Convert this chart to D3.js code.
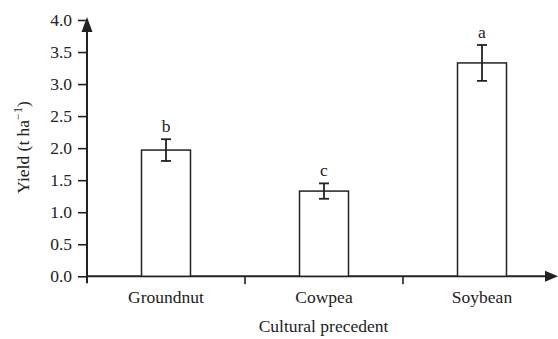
<!DOCTYPE html>
<html><head><meta charset="utf-8">
<script src="https://cdn.jsdelivr.net/npm/d3@7"></script>
<style>body{margin:0;background:#fff}text{font-family:"Liberation Serif","Times New Roman",serif;fill:#222}</style>
</head><body><svg id="c" width="558" height="339"></svg>
<script>
const categories = ["Groundnut", "Cowpea", "Soybean"];
const yields = [1.97, 1.33, 3.33];
const errors = [0.17, 0.12, 0.28];
const letters = ["b", "c", "a"];
const yTicks = [0, 0.5, 1.0, 1.5, 2.0, 2.5, 3.0, 3.5, 4.0];

const svg = d3.select("#c");
const ink = "#222";
const fs = 17.5;
const x0 = 87, x1 = 561, yb = 276.3, yt = 20;
const x = d3.scaleBand().domain(categories).range([x0, x1]).paddingInner(0.69).paddingOuter(0.345);
const xb = d3.scaleBand().domain(categories).range([x0, x1]).padding(0);
const y = d3.scaleLinear().domain([0, 4]).range([yb, yt]);

// y axis
const ya = svg.append("g").attr("transform", `translate(${x0},0)`)
  .call(d3.axisLeft(y).tickValues(yTicks).tickFormat(d3.format(".1f")).tickSize(9).tickPadding(6));
ya.select(".domain").remove();
ya.selectAll("line").attr("stroke", ink).attr("stroke-width", 1.6);
ya.selectAll("text").attr("font-size", fs).attr("font-family", "Liberation Serif").attr("fill", ink);
svg.append("line").attr("x1", x0).attr("x2", x0).attr("y1", 28).attr("y2", yb + 7)
  .attr("stroke", ink).attr("stroke-width", 2);
svg.append("path").attr("d", `M${x0},${yt - 3} L${x0 - 5.5},${yt + 12} L${x0 + 5.5},${yt + 12} Z`).attr("fill", ink);

// x axis
svg.append("line").attr("x1", x0).attr("x2", 548).attr("y1", yb).attr("y2", yb)
  .attr("stroke", ink).attr("stroke-width", 2);
svg.append("path").attr("d", `M558,${yb} L545,${yb - 5.5} L545,${yb + 5.5} Z`).attr("fill", ink);
svg.selectAll(".xt").data(categories.slice(0, 2)).enter().append("line")
  .attr("x1", d => xb(d) + xb.bandwidth()).attr("x2", d => xb(d) + xb.bandwidth())
  .attr("y1", yb).attr("y2", yb + 8).attr("stroke", ink).attr("stroke-width", 1.6);
svg.selectAll(".xl").data(categories).enter().append("text")
  .attr("x", d => x(d) + x.bandwidth() / 2).attr("y", 303).attr("text-anchor", "middle")
  .attr("font-size", fs).text(d => d);

// bars
svg.selectAll(".bar").data(categories).enter().append("rect")
  .attr("x", d => x(d)).attr("width", x.bandwidth())
  .attr("y", (d, i) => y(yields[i])).attr("height", (d, i) => yb - y(yields[i]))
  .attr("fill", "#fff").attr("stroke", ink).attr("stroke-width", 1.5);

// error bars
categories.forEach((c, i) => {
  const cx = x(c) + x.bandwidth() / 2;
  const hi = y(yields[i] + errors[i]), lo = y(yields[i] - errors[i]);
  const g = svg.append("g").attr("stroke", ink).attr("stroke-width", 1.8);
  g.append("line").attr("x1", cx).attr("x2", cx).attr("y1", hi).attr("y2", lo);
  g.append("line").attr("x1", cx - 5).attr("x2", cx + 5).attr("y1", hi).attr("y2", hi);
  g.append("line").attr("x1", cx - 5).attr("x2", cx + 5).attr("y1", lo).attr("y2", lo);
  svg.append("text").attr("x", cx).attr("y", hi - 7).attr("text-anchor", "middle")
    .attr("font-size", fs).text(letters[i]);
});

// axis titles
svg.append("text").attr("x", 323.5).attr("y", 332).attr("text-anchor", "middle")
  .attr("font-size", fs).text("Cultural precedent");
const yl = svg.append("text").attr("transform", `translate(29,147.5) rotate(-90)`)
  .attr("text-anchor", "middle").attr("font-size", fs);
yl.append("tspan").text("Yield (t ha");
yl.append("tspan").attr("font-size", 12).attr("dy", -7).text("\u22121");
yl.append("tspan").attr("dy", 7).text(")");
</script></body></html>
